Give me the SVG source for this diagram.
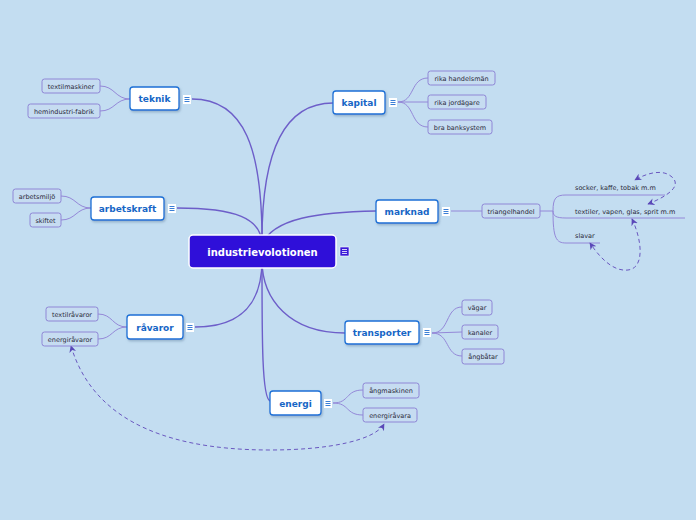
<svg xmlns="http://www.w3.org/2000/svg" width="696" height="520" viewBox="0 0 696 520">
<style>
.bg{fill:#c3ddf1}
.main rect.b{fill:#ffffff;stroke:#1b6fd6;stroke-width:1.3}
.main text{font-family:"DejaVu Sans",sans-serif;font-weight:bold;font-size:9px;fill:#1766c6;text-anchor:middle}
.sub rect{fill:#c6dcf1;stroke:#8f86d6;stroke-width:1}
.sub text{font-family:"DejaVu Sans",sans-serif;font-size:6.5px;fill:#2a2a3a;text-anchor:middle}
.ico rect{fill:#ffffff}
.ico line{stroke:#3b7fd6;stroke-width:1}
.c1{fill:none;stroke:#6d5ec9;stroke-width:1.4}
.c2{fill:none;stroke:#9488d8;stroke-width:1}
.rel{fill:none;stroke:#6a58c0;stroke-width:1;stroke-dasharray:4,3}
.lbl{font-family:"DejaVu Sans",sans-serif;font-size:6.5px;fill:#2a2a3a}
</style>
<defs>
<marker id="ah" viewBox="0 0 10 10" refX="9" refY="5" markerWidth="7" markerHeight="7" orient="auto-start-reverse" markerUnits="userSpaceOnUse">
<path d="M0,0 L10,5 L0,10 L3,5 Z" fill="#5a48b8"/>
</marker>
<filter id="sh" x="-10%" y="-10%" width="130%" height="140%"><feDropShadow dx="1" dy="1.5" stdDeviation="0.8" flood-color="#6080a0" flood-opacity="0.5"/></filter>
</defs>
<rect class="bg" x="0" y="0" width="696" height="520"/>

<g id="connectors">
<path class="c1" d="M262,240 C262,150 245,99 192,99"/>
<path class="c1" d="M262,240 C262,150 285,103 333,103"/>
<path class="c1" d="M262,245 C262,218 235,208 177,208"/>
<path class="c1" d="M262,245 C272,218 320,212 376,211"/>
<path class="c1" d="M262,260 C262,300 245,327 195,327"/>
<path class="c1" d="M262,260 C262,300 290,333 345,333"/>
<path class="c1" d="M262,265 C262,340 262,398 270,401"/>
<path class="c2" d="M130,99 C115,99 115,86 100,86"/>
<path class="c2" d="M130,99 C115,99 115,111 100,111"/>
<path class="c2" d="M398,102 C415,102 410,78 428,78"/>
<path class="c2" d="M398,102 L428,102"/>
<path class="c2" d="M398,102 C415,102 410,127 428,127"/>
<path class="c2" d="M91,208 C76,208 76,196 61,196"/>
<path class="c2" d="M91,208 C76,208 76,220 61,220"/>
<path class="c2" d="M451,211 L482,211"/>
<path class="c2" d="M540,211 L553,211"/>
<path class="c2" d="M553,211 C553,198 556,195 566,195 L665,195"/>
<path class="c2" d="M553,211 C553,216 556,218 566,218 L685,218"/>
<path class="c2" d="M553,211 C553,238 556,243 566,243 L600,243"/>
<path class="c2" d="M127,327 C112,327 113,314 98,314"/>
<path class="c2" d="M127,327 C112,327 113,339 98,339"/>
<path class="c2" d="M432,333 C450,333 445,307 462,307"/>
<path class="c2" d="M432,333 L462,332"/>
<path class="c2" d="M432,333 C450,333 445,356 462,356"/>
<path class="c2" d="M333,403 C350,403 345,390 363,390"/>
<path class="c2" d="M333,403 C350,403 345,415 363,415"/>
<path class="rel" marker-start="url(#ah)" marker-end="url(#ah)" d="M71,346 C90,410 150,450 270,450 C330,450 375,440 384,424"/>
<path class="rel" marker-start="url(#ah)" marker-end="url(#ah)" d="M648,204 C668,196 682,186 672,177 C662,168 645,174 635,180"/>
<path class="rel" marker-start="url(#ah)" marker-end="url(#ah)" d="M632,219 C642,240 645,268 628,270 C612,272 598,255 590,243"/>
</g>

<g id="center">
<rect x="189" y="235" width="147" height="33" rx="4" fill="#2f0fd9" stroke="#ffffff" stroke-width="1.5"/>
<text x="262.5" y="255.5" font-family="DejaVu Sans,sans-serif" font-weight="bold" font-size="10px" fill="#ffffff" text-anchor="middle">industrievolotionen</text>
<rect x="340" y="247" width="9" height="9" fill="#3a1ad8" stroke="#ffffff" stroke-width="0.6"/>
<line x1="342" y1="249.5" x2="347" y2="249.5" stroke="#ffffff" stroke-width="0.8"/>
<line x1="342" y1="251.5" x2="347" y2="251.5" stroke="#ffffff" stroke-width="0.8"/>
<line x1="342" y1="253.5" x2="347" y2="253.5" stroke="#ffffff" stroke-width="0.8"/>
</g>

<g id="teknik" class="main">
<rect class="b" x="130" y="87" width="49" height="23" rx="3" filter="url(#sh)"/>
<text x="154.5" y="102">teknik</text>
<g class="ico"><rect x="183" y="95" width="8" height="9"/><line x1="184.5" y1="97.5" x2="189.5" y2="97.5"/><line x1="184.5" y1="99.5" x2="189.5" y2="99.5"/><line x1="184.5" y1="101.5" x2="189.5" y2="101.5"/></g>
</g>
<g id="textilmaskiner" class="sub"><rect x="42" y="79" width="58" height="14" rx="2.5"/><text x="71" y="88.5">textilmaskiner</text></g>
<g id="hemindustri" class="sub"><rect x="28" y="104" width="72" height="14" rx="2.5"/><text x="64" y="113.5">hemindustri-fabrik</text></g>

<g id="kapital" class="main">
<rect class="b" x="333" y="91" width="52" height="23" rx="3" filter="url(#sh)"/>
<text x="359" y="106">kapital</text>
<g class="ico"><rect x="389" y="98" width="8" height="9"/><line x1="390.5" y1="100.5" x2="395.5" y2="100.5"/><line x1="390.5" y1="102.5" x2="395.5" y2="102.5"/><line x1="390.5" y1="104.5" x2="395.5" y2="104.5"/></g>
</g>
<g id="handelsman" class="sub"><rect x="428" y="71" width="67" height="14" rx="2.5"/><text x="461.5" y="80.5">rika handelsmän</text></g>
<g id="jordagare" class="sub"><rect x="428" y="95" width="58" height="14" rx="2.5"/><text x="457" y="104.5">rika jordägare</text></g>
<g id="banksystem" class="sub"><rect x="428" y="120" width="64" height="14" rx="2.5"/><text x="460" y="129.5">bra banksystem</text></g>

<g id="arbetskraft" class="main">
<rect class="b" x="91" y="197" width="73" height="23" rx="3" filter="url(#sh)"/>
<text x="127.5" y="212">arbetskraft</text>
<g class="ico"><rect x="168" y="204" width="8" height="9"/><line x1="169.5" y1="206.5" x2="174.5" y2="206.5"/><line x1="169.5" y1="208.5" x2="174.5" y2="208.5"/><line x1="169.5" y1="210.5" x2="174.5" y2="210.5"/></g>
</g>
<g id="arbetsmiljo" class="sub"><rect x="13" y="189" width="48" height="14" rx="2.5"/><text x="37" y="198.5">arbetsmiljö</text></g>
<g id="skiftet" class="sub"><rect x="30" y="213" width="31" height="14" rx="2.5"/><text x="45.5" y="222.5">skiftet</text></g>

<g id="marknad" class="main">
<rect class="b" x="376" y="200" width="62" height="23" rx="3" filter="url(#sh)"/>
<text x="407" y="215">marknad</text>
<g class="ico"><rect x="442" y="207" width="8" height="9"/><line x1="443.5" y1="209.5" x2="448.5" y2="209.5"/><line x1="443.5" y1="211.5" x2="448.5" y2="211.5"/><line x1="443.5" y1="213.5" x2="448.5" y2="213.5"/></g>
</g>
<g id="triangelhandel" class="sub"><rect x="482" y="204" width="58" height="14" rx="2.5"/><text x="511" y="213.5">triangelhandel</text></g>
<g id="socker"><text class="lbl" x="575" y="190">socker, kaffe, tobak m.m</text></g>
<g id="textiler"><text class="lbl" x="575" y="214">textiler, vapen, glas, sprit m.m</text></g>
<g id="slavar"><text class="lbl" x="575" y="238">slavar</text></g>

<g id="ravaror" class="main">
<rect class="b" x="127" y="315" width="56" height="24" rx="3" filter="url(#sh)"/>
<text x="155" y="330.5">råvaror</text>
<g class="ico"><rect x="186" y="323" width="8" height="9"/><line x1="187.5" y1="325.5" x2="192.5" y2="325.5"/><line x1="187.5" y1="327.5" x2="192.5" y2="327.5"/><line x1="187.5" y1="329.5" x2="192.5" y2="329.5"/></g>
</g>
<g id="textilravaror" class="sub"><rect x="46" y="307" width="52" height="14" rx="2.5"/><text x="72" y="316.5">textilråvaror</text></g>
<g id="energiravaror" class="sub"><rect x="42" y="332" width="56" height="14" rx="2.5"/><text x="70" y="341.5">energiråvaror</text></g>

<g id="transporter" class="main">
<rect class="b" x="345" y="321" width="74" height="23" rx="3" filter="url(#sh)"/>
<text x="382" y="336">transporter</text>
<g class="ico"><rect x="423" y="328" width="8" height="9"/><line x1="424.5" y1="330.5" x2="429.5" y2="330.5"/><line x1="424.5" y1="332.5" x2="429.5" y2="332.5"/><line x1="424.5" y1="334.5" x2="429.5" y2="334.5"/></g>
</g>
<g id="vagar" class="sub"><rect x="462" y="300" width="30" height="15" rx="2.5"/><text x="477" y="310">vägar</text></g>
<g id="kanaler" class="sub"><rect x="462" y="325" width="36" height="14" rx="2.5"/><text x="480" y="334.5">kanaler</text></g>
<g id="angbatar" class="sub"><rect x="462" y="349" width="42" height="15" rx="2.5"/><text x="483" y="359">ångbåtar</text></g>

<g id="energi" class="main">
<rect class="b" x="270" y="391" width="51" height="24" rx="3" filter="url(#sh)"/>
<text x="295.5" y="406.5">energi</text>
<g class="ico"><rect x="324" y="399" width="8" height="9"/><line x1="325.5" y1="401.5" x2="330.5" y2="401.5"/><line x1="325.5" y1="403.5" x2="330.5" y2="403.5"/><line x1="325.5" y1="405.5" x2="330.5" y2="405.5"/></g>
</g>
<g id="angmaskinen" class="sub"><rect x="363" y="383" width="56" height="15" rx="2.5"/><text x="391" y="393">ångmaskinen</text></g>
<g id="energiravara" class="sub"><rect x="363" y="408" width="54" height="14" rx="2.5"/><text x="390" y="417.5">energiråvara</text></g>
</svg>
